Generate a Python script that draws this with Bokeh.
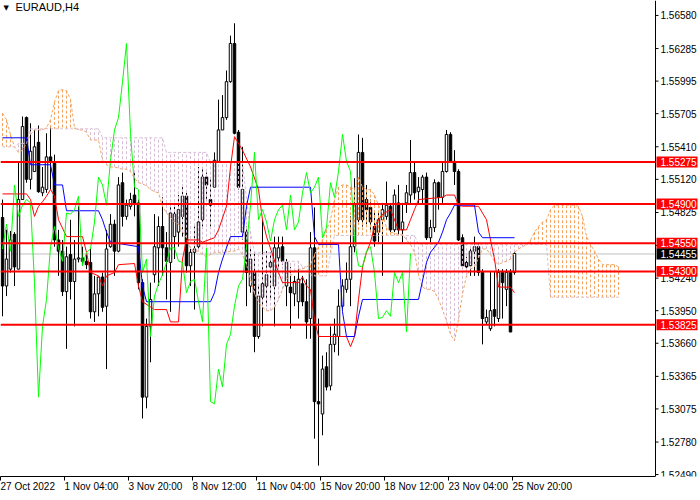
from bokeh.plotting import figure
from bokeh.models import Range1d, FixedTicker, Label
from bokeh.core.properties import value
from bokeh.embed import file_html
from bokeh.resources import INLINE

chart_title = "EURAUD,H4"

opens = [1.5478, 1.5417, 1.5432, 1.5463, 1.5432, 1.5494, 1.5567, 1.5512, 1.5519, 1.5545,
         1.5500, 1.5503, 1.5532, 1.5527, 1.5458, 1.5448, 1.5412, 1.5445, 1.5421, 1.5441,
         1.5442, 1.5439, 1.5438, 1.5394, 1.5410, 1.5425, 1.5399, 1.5452, 1.5472, 1.5448,
         1.5509, 1.5479, 1.5488, 1.5498, 1.5491, 1.5420, 1.5318, 1.5381, 1.5427, 1.5451,
         1.5470, 1.5451, 1.5438, 1.5461, 1.5465, 1.5479, 1.5497, 1.5435, 1.5447, 1.5452,
         1.5476, 1.5514, 1.5494, 1.5505, 1.5528, 1.5556, 1.5567, 1.5599, 1.5633, 1.5554,
         1.5465, 1.5465, 1.5417, 1.5429, 1.5372, 1.5407, 1.5417, 1.5434, 1.5417, 1.5442,
         1.5452, 1.5417, 1.5416, 1.5410, 1.5403, 1.5419, 1.5403, 1.5388, 1.5451, 1.5314,
         1.5303, 1.5345, 1.5328, 1.5365, 1.5372, 1.5399, 1.5414, 1.5423, 1.5452, 1.5476,
         1.5536, 1.5494, 1.5487, 1.5470, 1.5465, 1.5476, 1.5479, 1.5488, 1.5467, 1.5491,
         1.5467, 1.5491, 1.5498, 1.5518, 1.5501, 1.5503, 1.5514, 1.5460, 1.5469, 1.5509,
         1.5496, 1.5519, 1.5552, 1.5528, 1.5519, 1.5460, 1.5438, 1.5435, 1.5448, 1.5452,
         1.5429, 1.5385, 1.5379, 1.5396, 1.5388, 1.5429, 1.5414, 1.5430, 1.5429]

highs = [1.5494, 1.5467, 1.5466, 1.5465, 1.5528, 1.5568, 1.5568, 1.5562, 1.5556, 1.5560,
         1.5523, 1.5553, 1.5559, 1.5534, 1.5467, 1.5458, 1.5452, 1.5476, 1.5458, 1.5488,
         1.5452, 1.5445, 1.5450, 1.5426, 1.5426, 1.5429, 1.5467, 1.5481, 1.5476, 1.5514,
         1.5518, 1.5494, 1.5500, 1.5518, 1.5494, 1.5423, 1.5388, 1.5420, 1.5481, 1.5479,
         1.5496, 1.5465, 1.5488, 1.5491, 1.5498, 1.5505, 1.5500, 1.5450, 1.5470, 1.5523,
         1.5523, 1.5518, 1.5512, 1.5536, 1.5583, 1.5587, 1.5609, 1.5640, 1.5651, 1.5556,
         1.5541, 1.5470, 1.5450, 1.5447, 1.5417, 1.5476, 1.5448, 1.5447, 1.5461, 1.5461,
         1.5461, 1.5441, 1.5434, 1.5426, 1.5435, 1.5426, 1.5423, 1.5465, 1.5487, 1.5388,
         1.5355, 1.5358, 1.5381, 1.5388, 1.5414, 1.5423, 1.5438, 1.5479, 1.5513, 1.5552,
         1.5549, 1.5507, 1.5494, 1.5482, 1.5482, 1.5491, 1.5510, 1.5491, 1.5503, 1.5507,
         1.5491, 1.5507, 1.5547, 1.5527, 1.5514, 1.5516, 1.5518, 1.5476, 1.5512, 1.5510,
         1.5528, 1.5556, 1.5554, 1.5538, 1.5521, 1.5463, 1.5443, 1.5452, 1.5461, 1.5454,
         1.5432, 1.5396, 1.5430, 1.5430, 1.5432, 1.5432, 1.5432, 1.5432, 1.5448]

lows = [1.5390, 1.5408, 1.5429, 1.5417, 1.5432, 1.5494, 1.5509, 1.5503, 1.5519, 1.5500,
        1.5497, 1.5500, 1.5503, 1.5452, 1.5426, 1.5408, 1.5361, 1.5405, 1.5381, 1.5438,
        1.5435, 1.5432, 1.5388, 1.5385, 1.5390, 1.5394, 1.5343, 1.5451, 1.5426, 1.5447,
        1.5470, 1.5476, 1.5485, 1.5479, 1.5414, 1.5299, 1.5308, 1.5349, 1.5420, 1.5417,
        1.5426, 1.5405, 1.5394, 1.5441, 1.5452, 1.5461, 1.5429, 1.5417, 1.5396, 1.5450,
        1.5470, 1.5494, 1.5470, 1.5505, 1.5527, 1.5556, 1.5565, 1.5598, 1.5552, 1.5503,
        1.5458, 1.5399, 1.5411, 1.5358, 1.5370, 1.5381, 1.5399, 1.5405, 1.5381, 1.5432,
        1.5436, 1.5399, 1.5379, 1.5399, 1.5388, 1.5399, 1.5370, 1.5370, 1.5281, 1.5257,
        1.5284, 1.5324, 1.5324, 1.5358, 1.5355, 1.5396, 1.5411, 1.5399, 1.5447, 1.5474,
        1.5470, 1.5472, 1.5465, 1.5452, 1.5456, 1.5426, 1.5476, 1.5465, 1.5465, 1.5463,
        1.5456, 1.5482, 1.5491, 1.5494, 1.5491, 1.5491, 1.5458, 1.5456, 1.5465, 1.5485,
        1.5491, 1.5518, 1.5527, 1.5507, 1.5457, 1.5432, 1.5432, 1.5426, 1.5426, 1.5426,
        1.5365, 1.5383, 1.5377, 1.5381, 1.5385, 1.5388, 1.5399, 1.5376, 1.5427]

closes = [1.5417, 1.5441, 1.5458, 1.5434, 1.5494, 1.5559, 1.5512, 1.5537, 1.5541, 1.5501,
          1.5505, 1.5532, 1.5527, 1.5458, 1.5448, 1.5412, 1.5443, 1.5421, 1.5441, 1.5442,
          1.5439, 1.5436, 1.5394, 1.5410, 1.5425, 1.5398, 1.5450, 1.5472, 1.5448, 1.5507,
          1.5479, 1.5489, 1.5494, 1.5491, 1.5420, 1.5318, 1.5381, 1.5405, 1.5452, 1.5470,
          1.5451, 1.5439, 1.5482, 1.5481, 1.5485, 1.5497, 1.5435, 1.5447, 1.5450, 1.5474,
          1.5514, 1.5507, 1.5489, 1.5529, 1.5556, 1.5567, 1.5599, 1.5633, 1.5553, 1.5505,
          1.5503, 1.5429, 1.5441, 1.5372, 1.5408, 1.5419, 1.5427, 1.5438, 1.5451, 1.5451,
          1.5439, 1.5438, 1.5411, 1.5421, 1.5423, 1.5403, 1.5385, 1.5451, 1.5314, 1.5312,
          1.5343, 1.5327, 1.5365, 1.5374, 1.5399, 1.5417, 1.5423, 1.5452, 1.5489, 1.5536,
          1.5476, 1.5485, 1.5474, 1.5457, 1.5476, 1.5485, 1.5489, 1.5467, 1.5498, 1.5467,
          1.5474, 1.5500, 1.5518, 1.5500, 1.5505, 1.5514, 1.5460, 1.5469, 1.5509, 1.5496,
          1.5519, 1.5552, 1.5528, 1.5519, 1.5458, 1.5435, 1.5434, 1.5448, 1.5452, 1.5429,
          1.5388, 1.5389, 1.5395, 1.5390, 1.5429, 1.5420, 1.5429, 1.5376, 1.5446]

tenkan_bar = [0, 6, 7, 8, 9, 10, 11, 12, 13, 14, 16, 20, 21, 22, 24, 25, 26, 28, 29, 33,
              34, 35, 38, 41, 42, 44, 45, 46, 49, 50, 53, 54, 56, 57, 58, 60, 62, 64, 65, 66,
              69, 70, 74, 75, 76, 77, 78, 79, 86, 87, 88, 89, 90, 91, 92, 93, 94, 95, 97, 98,
              99, 101, 102, 103, 104, 110, 111, 113, 114, 115, 119, 121, 122, 123, 124, 127, 128]
tenkan_val = [1.5499, 1.5499, 1.5494, 1.5479, 1.5488, 1.5492, 1.5497, 1.5503, 1.5497, 1.5476,
              1.5461, 1.5461, 1.5447, 1.5429, 1.5426, 1.5417, 1.5426, 1.5429, 1.5436, 1.5437,
              1.5417, 1.5403, 1.5396, 1.5396, 1.5385, 1.5385, 1.5441, 1.5458, 1.5458, 1.5456,
              1.5460, 1.5467, 1.5488, 1.5523, 1.5550, 1.5538, 1.5523, 1.5503, 1.5476, 1.5461,
              1.5429, 1.5420, 1.5420, 1.5425, 1.5417, 1.5414, 1.5387, 1.5372, 1.5372, 1.5363,
              1.5372, 1.5405, 1.5434, 1.5447, 1.5456, 1.5470, 1.5476, 1.5481, 1.5485, 1.5476,
              1.5467, 1.5467, 1.5476, 1.5485, 1.5494, 1.5496, 1.5498, 1.5498, 1.5489, 1.5488,
              1.5488, 1.5476, 1.5458, 1.5441, 1.5416, 1.5416, 1.5411]

kijun_bar = [0, 6, 7, 12, 13, 15, 16, 24, 25, 26, 27, 34, 35, 36, 52, 53, 54, 55, 57, 60,
             61, 62, 77, 78, 79, 84, 85, 86, 88, 89, 90, 104, 106, 107, 109, 110, 111, 112, 113, 118,
             119, 120, 128]
kijun_val = [1.5549, 1.5549, 1.5525, 1.5525, 1.5507, 1.5507, 1.5484, 1.5484, 1.5476, 1.5465,
             1.5456, 1.5452, 1.5417, 1.5403, 1.5403, 1.5411, 1.5429, 1.5441, 1.5461, 1.5461,
             1.5488, 1.5505, 1.5505, 1.5461, 1.5454, 1.5454, 1.5394, 1.5372, 1.5372, 1.5390,
             1.5405, 1.5405, 1.5438, 1.5447, 1.5456, 1.5465, 1.5476, 1.5482, 1.5489, 1.5489,
             1.5465, 1.5460, 1.5460]

span_a = [1.5571, 1.5565, 1.5552, 1.5541, 1.5536, 1.5538, 1.5544, 1.5552, 1.5556, 1.5556,
          1.5556, 1.5558, 1.5565, 1.5581, 1.5591, 1.5592, 1.5591, 1.5583, 1.5558, 1.5556,
          1.5556, 1.5554, 1.5547, 1.5547, 1.5547, 1.5529, 1.5525, 1.5523, 1.5523, 1.5522,
          1.5521, 1.5521, 1.5519, 1.5513, 1.5509, 1.5508, 1.5506, 1.5503, 1.5501, 1.5500,
          1.5488, 1.5482, 1.5478, 1.5474, 1.5472, 1.5465, 1.5460, 1.5450, 1.5448, 1.5448,
          1.5445, 1.5443, 1.5445, 1.5447, 1.5447, 1.5447, 1.5447, 1.5448, 1.5448, 1.5450,
          1.5445, 1.5436, 1.5423, 1.5410, 1.5403, 1.5398, 1.5395, 1.5395, 1.5398, 1.5405,
          1.5414, 1.5423, 1.5426, 1.5430, 1.5432, 1.5432, 1.5434, 1.5436, 1.5445, 1.5452,
          1.5458, 1.5467, 1.5476, 1.5494, 1.5505, 1.5507, 1.5507, 1.5505, 1.5503, 1.5514,
          1.5505, 1.5503, 1.5503, 1.5498, 1.5489, 1.5481, 1.5469, 1.5465, 1.5464, 1.5463,
          1.5463, 1.5458, 1.5454, 1.5447, 1.5427, 1.5416, 1.5414, 1.5414, 1.5412, 1.5405,
          1.5396, 1.5386, 1.5374, 1.5368, 1.5387, 1.5410, 1.5426, 1.5432, 1.5434, 1.5442,
          1.5450, 1.5450, 1.5445, 1.5439, 1.5436, 1.5438, 1.5439, 1.5441, 1.5447, 1.5450,
          1.5452, 1.5454, 1.5458, 1.5465, 1.5470, 1.5474, 1.5476, 1.5485, 1.5489, 1.5489,
          1.5489, 1.5489, 1.5489, 1.5489, 1.5488, 1.5479, 1.5461, 1.5454, 1.5448, 1.5441,
          1.5436, 1.5436, 1.5436, 1.5436, 1.5434]

span_b = [1.5541, 1.5541, 1.5541, 1.5541, 1.5544, 1.5544, 1.5544, 1.5557, 1.5557, 1.5557,
          1.5557, 1.5557, 1.5557, 1.5557, 1.5557, 1.5557, 1.5557, 1.5557, 1.5557, 1.5557,
          1.5557, 1.5557, 1.5557, 1.5557, 1.5557, 1.5549, 1.5549, 1.5549, 1.5549, 1.5549,
          1.5549, 1.5549, 1.5549, 1.5549, 1.5549, 1.5549, 1.5549, 1.5549, 1.5549, 1.5549,
          1.5549, 1.5536, 1.5536, 1.5536, 1.5536, 1.5536, 1.5536, 1.5536, 1.5536, 1.5536,
          1.5536, 1.5536, 1.5527, 1.5527, 1.5527, 1.5527, 1.5527, 1.5527, 1.5527, 1.5527,
          1.5527, 1.5494, 1.5465, 1.5447, 1.5447, 1.5447, 1.5447, 1.5447, 1.5439, 1.5439,
          1.5439, 1.5439, 1.5439, 1.5439, 1.5439, 1.5434, 1.5434, 1.5427, 1.5426, 1.5426,
          1.5426, 1.5426, 1.5445, 1.5462, 1.5462, 1.5462, 1.5462, 1.5462, 1.5462, 1.5462,
          1.5462, 1.5462, 1.5462, 1.5462, 1.5462, 1.5462, 1.5462, 1.5462, 1.5462, 1.5462,
          1.5462, 1.5462, 1.5462, 1.5462, 1.5454, 1.5454, 1.5454, 1.5454, 1.5454, 1.5454,
          1.5454, 1.5454, 1.5454, 1.5454, 1.5454, 1.5454, 1.5454, 1.5454, 1.5454, 1.5454,
          1.5454, 1.5454, 1.5454, 1.5454, 1.5454, 1.5454, 1.5454, 1.5454, 1.5454, 1.5454,
          1.5454, 1.5454, 1.5454, 1.5454, 1.5454, 1.5454, 1.5454, 1.5407, 1.5407, 1.5407,
          1.5407, 1.5407, 1.5407, 1.5407, 1.5407, 1.5407, 1.5407, 1.5407, 1.5407, 1.5407,
          1.5407, 1.5407, 1.5407, 1.5407, 1.5407]

chikou_shift = 26
levels = [1.55275, 1.54900, 1.54550, 1.54300, 1.53825]
bid_price = 1.54455

xtick_bars = [0, 16, 32, 48, 64, 80, 96, 112, 128]
xtick_labels = ["27 Oct 2022", "1 Nov 04:00", "3 Nov 20:00", "8 Nov 12:00", "11 Nov 04:00",
                "15 Nov 20:00", "18 Nov 12:00", "23 Nov 04:00", "25 Nov 20:00"]
ytick_values = [1.52490, 1.52780, 1.53075, 1.53365, 1.53660, 1.53950, 1.54240, 1.54530,
                1.54825, 1.55120, 1.55410, 1.55705, 1.55995, 1.56285, 1.56580]

FONT = "Liberation Sans"
FS = "10px"
Y_MIN, Y_MAX = 1.52473, 1.56713
FIG_W, FIG_H = 700, 500
BOTTOM = 22
FRAME_H = FIG_H - BOTTOM
X_END = 163.75                       # price-axis position (bars)
PX_PER_BAR = 4.0
X_TOTAL = FIG_W / PX_PER_BAR
PRICE_PER_PX = (Y_MAX - Y_MIN) / FRAME_H

p = figure(width=FIG_W, height=FIG_H, x_range=Range1d(0, X_TOTAL), y_range=Range1d(Y_MIN, Y_MAX),
           output_backend="svg", toolbar_location=None, y_axis_location=None,
           min_border_left=0, min_border_top=0, min_border_right=0, min_border_bottom=BOTTOM,
           background_fill_color="white", border_fill_color="white", outline_line_color=None)
p.xgrid.visible = False
p.ygrid.visible = False

# time axis (labels start at their tick)
xa = p.xaxis[0]
xa.bounds = (0, X_END)
xa.ticker = FixedTicker(ticks=xtick_bars)
xa.major_label_overrides = {b: t for b, t in zip(xtick_bars, xtick_labels)}
xa.major_label_orientation = -0.0001
xa.major_tick_out = 4
xa.major_tick_in = 0
xa.minor_tick_line_color = None
xa.axis_line_color = "black"
xa.major_tick_line_color = "black"
xa.major_label_standoff = 6
xa.major_label_text_font = FONT
xa.major_label_text_font_size = FS
xa.major_label_text_color = "black"

# bid line (behind)
p.segment(x0=[0], y0=[bid_price], x1=[X_END], y1=[bid_price], line_color="#C0C0C0", line_width=1)

# candles
n = len(opens)
bx = [i + 0.5 for i in range(n)]
p.segment(x0=bx, y0=lows, x1=bx, y1=highs, line_color="black", line_width=1)
bull = [i for i in range(n) if closes[i] >= opens[i]]
bear = [i for i in range(n) if closes[i] < opens[i]]
p.vbar(x=[bx[i] for i in bull], width=0.62, top=[closes[i] for i in bull], bottom=[opens[i] for i in bull],
       fill_color="white", line_color="black", line_width=1)
p.vbar(x=[bx[i] for i in bear], width=0.62, top=[opens[i] for i in bear], bottom=[closes[i] for i in bear],
       fill_color="black", line_color="black", line_width=1)

# Ichimoku cloud hatch
cx = [i + 0.5 for i in range(len(span_a))]
hatch_col = ["#F4A460" if a >= b else "#D8BFD8" for a, b in zip(span_a, span_b)]
p.segment(x0=cx, y0=span_a, x1=cx, y1=span_b, line_color=hatch_col, line_width=1, line_dash="3 2")
p.line(cx, span_a, line_color="#F4A460", line_width=1, line_dash="3 2")
p.line(cx, span_b, line_color="#D8BFD8", line_width=1, line_dash="3 2")

# Tenkan / Kijun / Chikou
p.line([b + 0.5 for b in tenkan_bar], tenkan_val, line_color="#FF0000", line_width=1)
p.line([b + 0.5 for b in kijun_bar], kijun_val, line_color="#0000FF", line_width=1)
p.line(bx[:n - chikou_shift], closes[chikou_shift:], line_color="#00FF00", line_width=1)

# horizontal levels, ending at the price axis
p.segment(x0=[0] * len(levels), y0=levels, x1=[X_END] * len(levels), y1=levels,
          line_color="#FF0000", line_width=2)

# price scale on the right
p.segment(x0=[X_END], y0=[Y_MIN], x1=[X_END], y1=[Y_MAX], line_color="black", line_width=1)
p.segment(x0=[X_END] * len(ytick_values), y0=ytick_values,
          x1=[X_END + 3 / PX_PER_BAR] * len(ytick_values), y1=ytick_values,
          line_color="black", line_width=1)
p.text(x=[X_END + 5 / PX_PER_BAR] * len(ytick_values), y=ytick_values,
       text=[f"{v:.5f}" for v in ytick_values], text_color="black",
       text_font=value(FONT), text_font_size=value(FS), text_baseline="middle", text_align="left")

# price boxes for levels and bid
box_left = X_END + 1 / PX_PER_BAR
box_right = X_END + 42 / PX_PER_BAR
half_h = 5.5 * PRICE_PER_PX
box_vals = levels + [bid_price]
box_cols = ["#FF0000"] * len(levels) + ["black"]
p.quad(left=[box_left] * len(box_vals), right=[box_right] * len(box_vals),
       top=[v + half_h for v in box_vals], bottom=[v - half_h for v in box_vals],
       fill_color=box_cols, line_color=None)
p.text(x=[X_END + 5 / PX_PER_BAR] * len(box_vals), y=box_vals,
       text=[f"{v:.5f}" for v in box_vals], text_color="white",
       text_font=value(FONT), text_font_size=value(FS), text_baseline="middle", text_align="left")

# title
p.add_layout(Label(x=3, y=FRAME_H - 5, x_units="screen", y_units="screen", text="\u25BC", text_font="DejaVu Sans",
                   text_font_size="7px", text_baseline="top", text_color="black"))
p.add_layout(Label(x=15, y=FRAME_H - 2, x_units="screen", y_units="screen", text=chart_title, text_font=FONT,
                   text_font_size="11px", text_baseline="top", text_color="black"))

open("out.html", "w").write(file_html(p, INLINE))
